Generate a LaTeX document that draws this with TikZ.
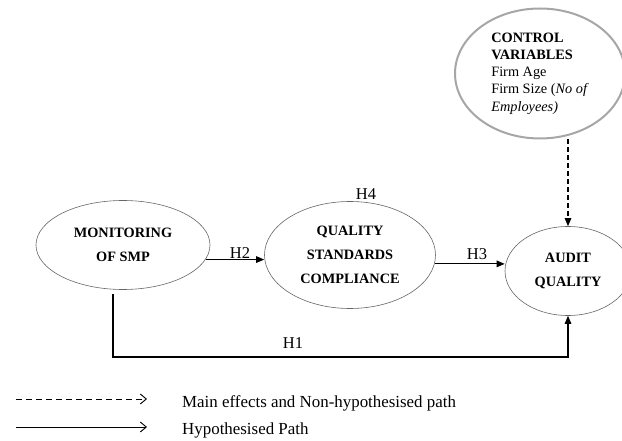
\documentclass[tikz,border=0pt]{standalone}
\usepackage{fontspec}
\setmainfont{Liberation Serif}
\usetikzlibrary{shapes.geometric,arrows.meta}
\tikzset{
  construct/.style={draw=black!60, line width=0.6pt, ellipse, inner sep=0pt, align=center,
    font=\bfseries\fontsize{14.3}{24}\selectfont},
  ctlbox/.style={draw=black!35, line width=2pt, ellipse, inner sep=0pt, align=left,
    font=\fontsize{14.3}{17.3}\selectfont},
  hyp/.style={line width=1.2pt, -{Triangle[length=8pt,width=6.5pt]}},
  nonhyp/.style={line width=1.2pt, dash pattern=on 5pt off 3pt, -{Triangle[length=8pt,width=6.5pt]}},
  hlabel/.style={font=\fontsize{16.5}{19}\selectfont, inner sep=0pt},
  legtext/.style={font=\fontsize{16.9}{19}\selectfont, inner sep=0pt, anchor=west},
  legsolid/.style={line width=0.9pt, -{Straight Barb[length=6pt,width=10pt,line width=0.9pt]}},
  legdash/.style={line width=0.9pt, dash pattern=on 6pt off 4pt, -{Straight Barb[length=6pt,width=10pt,line width=0.9pt]}}
}
\begin{document}
\begin{tikzpicture}[x=1pt,y=-1pt]
\useasboundingbox (0,0) rectangle (622,441);

\node[construct, minimum width=174pt, minimum height=89pt] (mon) at (123,245) {MONITORING\\OF SMP};
\node[construct, minimum width=171pt, minimum height=107pt] (qsc) at (350,255) {QUALITY\\STANDARDS\\COMPLIANCE};
\node[construct, minimum width=126pt, minimum height=89pt] (aud) at (568,271) {AUDIT\\QUALITY};
\node[ctlbox, minimum width=170pt, minimum height=130pt] (ctl) at (540,73.5)
  {\textbf{CONTROL}\\\textbf{VARIABLES}\\Firm Age\\Firm Size (\textit{No of}\\\textit{Employees)}};

% H2
\draw[hyp] (mon.-10.4) -- (mon.-10.4 -| qsc.west);
\node[hlabel] (h2) at (240,253) {H2};
% H3
\draw[hyp] (qsc.-6.8) -- (qsc.-6.8 -| aud.west);
\node[hlabel] (h3) at (477,254) {H3};
% H4
\node[hlabel] (h4) at (366,194) {H4};
% H1
\coordinate (h1s) at ([xshift=-10pt,yshift=-4pt]mon.south);
\coordinate (h1y) at (0,357);
\draw[hyp] (h1s) -- (h1s |- h1y) -- (aud.south |- h1y) -- (aud.south);
\node[hlabel] (h1) at (293,343) {H1};
% control variables
\draw[nonhyp] (aud.north |- ctl.south) -- (aud.north);

% legend
\coordinate (la) at (16,399);
\coordinate (lb) at (147,399);
\coordinate (lc) at (16,427);
\coordinate (ld) at (147,427);
\draw[legdash] (la) -- (lb);
\draw[legsolid] (lc) -- (ld);
\node[legtext] (l1) at (182,403) {Main effects and Non-hypothesised path};
\node[legtext] (l2) at (182,430) {Hypothesised Path};
\end{tikzpicture}
\end{document}
